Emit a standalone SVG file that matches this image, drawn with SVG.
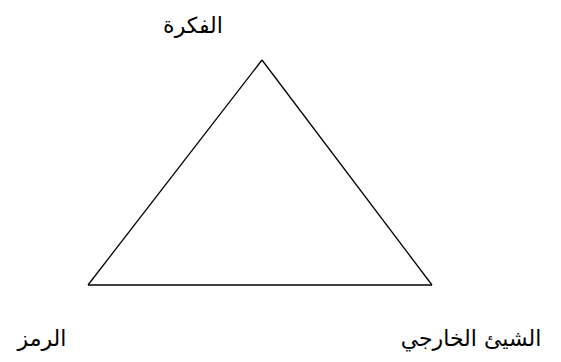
<svg xmlns="http://www.w3.org/2000/svg" width="561" height="362" viewBox="0 0 561 362">
<style>
.lbl{font-family:"DejaVu Sans",sans-serif;font-size:22px;fill:#000;direction:rtl}
.edge{stroke:#000;stroke-width:1.3;fill:none}
</style>
<rect width="561" height="362" fill="#fff"/>
<g id="connectors">
<line class="edge" x1="262" y1="60" x2="88" y2="285"/>
<line class="edge" x1="262" y1="60" x2="432" y2="285"/>
<line class="edge" x1="88" y1="285" x2="432" y2="285"/>
</g>
<g id="node-idea"><text class="lbl" x="193" y="33" text-anchor="middle">الفكرة</text></g>
<g id="node-symbol"><text class="lbl" x="42" y="346" text-anchor="middle">الرمز</text></g>
<g id="node-referent"><text class="lbl" x="471" y="346" text-anchor="middle">الشيئ الخارجي</text></g>
</svg>
